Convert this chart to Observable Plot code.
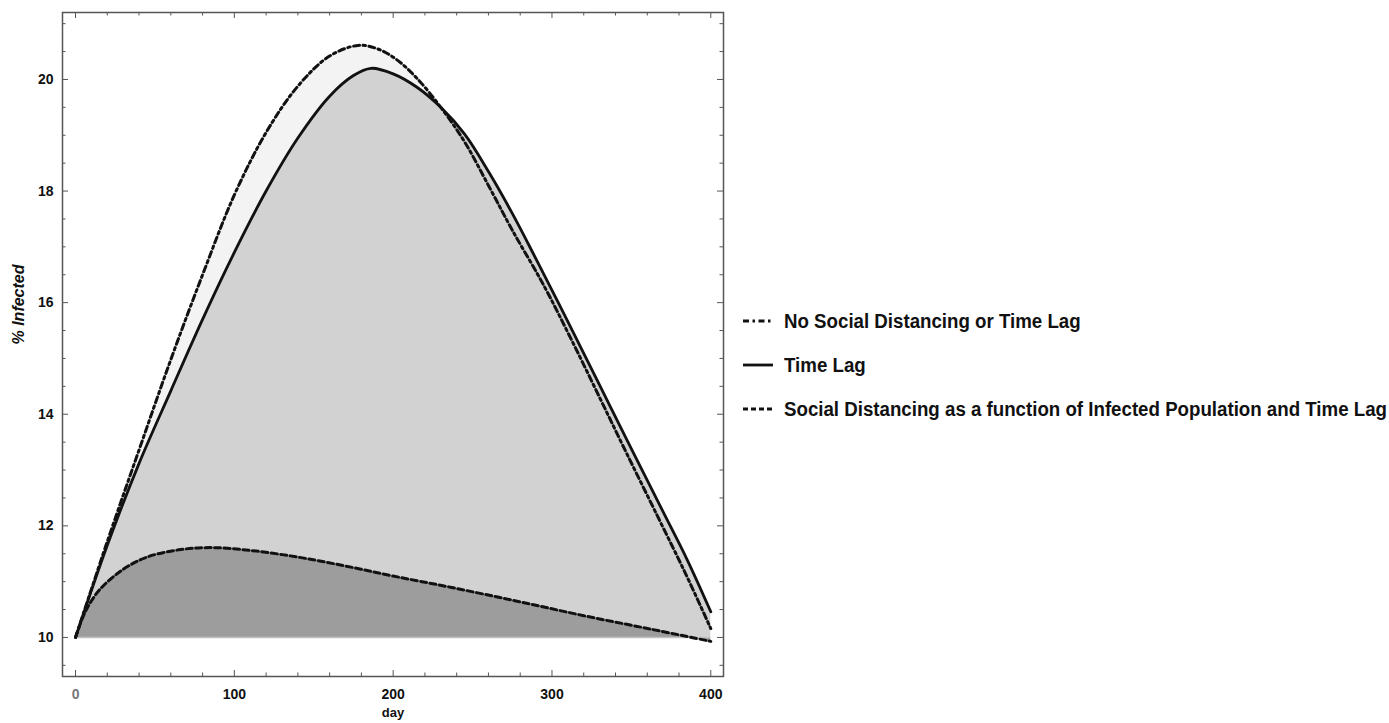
<!DOCTYPE html>
<html><head><meta charset="utf-8">
<script src="https://cdn.jsdelivr.net/npm/d3@7"></script>
<script src="https://cdn.jsdelivr.net/npm/@observablehq/plot@0.6"></script>
<style>
body{margin:0;background:#fff;}
#wrap{position:relative;width:1389px;height:723px;overflow:hidden;}
#chart{position:absolute;left:0;top:0;}
#legend{position:absolute;left:0;top:0;font-family:"Liberation Sans",Arial,sans-serif;font-weight:bold;font-size:20px;color:#111;}
.item{position:absolute;display:flex;align-items:center;white-space:nowrap;height:24px;}
.item svg{margin-right:11px;flex:none;}
.item span{display:inline-block;transform-origin:0 50%;}
</style></head>
<body><div id="wrap"><div id="chart"></div><div id="legend"></div></div>
<script>
// ---- data ----
const seriesNames = ["No Social Distancing or Time Lag", "Time Lag", "Social Distancing as a function of Infected Population and Time Lag"];
const baseline = 10;

const noSdDays   = [0, 20, 40, 60, 80, 100, 120, 140, 160, 178, 190, 202, 215, 230, 245, 260, 275, 295, 312, 330, 347, 366, 384, 400];
const noSdValues = [10, 11.72, 13.36, 14.98, 16.5, 17.93, 19.05, 19.88, 20.42, 20.61, 20.55, 20.36, 20.02, 19.5, 18.88, 18.1, 17.3, 16.3, 15.35, 14.3, 13.3, 12.2, 11.15, 10.16];

const lagDays   = [0, 20, 40, 60, 80, 100, 120, 140, 160, 175, 186, 200, 215, 230, 245, 260, 275, 290, 310, 330, 350, 370, 385, 400];
const lagValues = [10, 11.65, 13.12, 14.42, 15.7, 16.9, 18.0, 18.95, 19.7, 20.07, 20.2, 20.1, 19.86, 19.5, 19.02, 18.35, 17.6, 16.78, 15.66, 14.52, 13.38, 12.25, 11.4, 10.46];

const sdDays   = [0, 6, 15, 30, 45, 65, 85, 110, 140, 170, 200, 236, 278, 320, 362, 400];
const sdValues = [10, 10.45, 10.85, 11.22, 11.44, 11.57, 11.61, 11.56, 11.44, 11.28, 11.1, 10.9, 10.65, 10.39, 10.15, 9.93];

const xMajorTicks = [0, 100, 200, 300, 400];
const xMinorTicks = d3.range(0, 401, 20).filter(d => d % 100 !== 0);
const yMajorTicks = [10, 12, 14, 16, 18, 20];
const yMinorTicks = d3.range(9.5, 21.01, 0.5).filter(d => d % 2 !== 0);

const xDomain = [-8.2, 408];
const yDomain = [9.3, 21.2];

// ---- build tables ----
const noSd = noSdDays.map((d, i) => ({day: d, value: noSdValues[i]}));
const lag  = lagDays.map((d, i) => ({day: d, value: lagValues[i]}));
const sd   = sdDays.map((d, i) => ({day: d, value: sdValues[i]}));

const W = 740, H = 723, mL = 62, mR = 17, mT = 12, mB = 47;
const fH = H - mT - mB, fW = W - mL - mR;
const major = 6, minor = 3.5;
const tickColor = "#555";
const curve = "catmull-rom";

const plot = Plot.plot({
  width: W, height: H,
  marginLeft: mL, marginRight: mR, marginTop: mT, marginBottom: mB,
  x: {domain: xDomain},
  y: {domain: yDomain},
  style: {fontFamily: "'Liberation Sans', Arial, sans-serif", fontSize: "14px", fontWeight: "bold", color: "#111", background: "#fff"},
  marks: [
    Plot.areaY(noSd, {x: "day", y1: baseline, y2: "value", fill: "#f3f3f3", curve}),
    Plot.areaY(lag,  {x: "day", y1: baseline, y2: "value", fill: "#d2d2d2", curve}),
    Plot.areaY(sd,   {x: "day", y1: baseline, y2: "value", fill: "#9d9d9d", curve}),
    Plot.ruleY([baseline], {x1: xMajorTicks[0], x2: xMajorTicks[xMajorTicks.length - 1], stroke: "#c2c2c2", strokeWidth: 1.5}),
    Plot.line(noSd, {x: "day", y: "value", stroke: "#111", strokeWidth: 3, strokeDasharray: "6,3.5,2.5,3.5", curve}),
    Plot.line(lag,  {x: "day", y: "value", stroke: "#111", strokeWidth: 2.8, curve}),
    Plot.line(sd,   {x: "day", y: "value", stroke: "#111", strokeWidth: 3, strokeDasharray: "6,3.5", curve}),
    // inward frame ticks (bottom, top, left, right)
    Plot.ruleX(xMajorTicks, {x: d => d, insetTop: fH - major, stroke: tickColor}),
    Plot.ruleX(xMinorTicks, {x: d => d, insetTop: fH - minor, stroke: tickColor}),
    Plot.ruleX(xMajorTicks, {x: d => d, insetBottom: fH - major, stroke: tickColor}),
    Plot.ruleX(xMinorTicks, {x: d => d, insetBottom: fH - minor, stroke: tickColor}),
    Plot.ruleY(yMajorTicks, {y: d => d, insetRight: fW - major, stroke: tickColor}),
    Plot.ruleY(yMinorTicks, {y: d => d, insetRight: fW - minor, stroke: tickColor}),
    Plot.ruleY(yMajorTicks, {y: d => d, insetLeft: fW - major, stroke: tickColor}),
    Plot.ruleY(yMinorTicks, {y: d => d, insetLeft: fW - minor, stroke: tickColor}),
    Plot.frame({stroke: "#555", strokeWidth: 1.5}),
    Plot.axisX(xMajorTicks, {tickSize: 0, tickPadding: 13, label: null, tickFormat: d => String(d), fill: d => d === 0 ? "#777" : "#111"}),
    Plot.axisY(yMajorTicks, {tickSize: 0, tickPadding: 9, label: null, tickFormat: d => String(d)}),
    Plot.text(["day"], {text: d => d, frameAnchor: "bottom", dy: 40, fontSize: 13}),
    Plot.text(["% Infected"], {text: d => d, frameAnchor: "left", dx: -44, rotate: -90, fontSize: 16, fontStyle: "italic"})
  ]
});
document.getElementById("chart").appendChild(plot);

// ---- legend ----
const legendDash = ["6,3.5,2.5,3.5", null, "5,3"];
const legendTop = [309, 353, 397];
const legend = document.getElementById("legend");
const spans = [];
seriesNames.forEach((name, i) => {
  const item = document.createElement("div");
  item.className = "item";
  item.style.left = "743px";
  item.style.top = legendTop[i] + "px";
  const ns = "http://www.w3.org/2000/svg";
  const s = document.createElementNS(ns, "svg");
  s.setAttribute("width", 30); s.setAttribute("height", 10);
  const l = document.createElementNS(ns, "line");
  l.setAttribute("x1", 0); l.setAttribute("x2", 30); l.setAttribute("y1", 5); l.setAttribute("y2", 5);
  l.setAttribute("stroke", "#111"); l.setAttribute("stroke-width", 2.8);
  if (legendDash[i]) l.setAttribute("stroke-dasharray", legendDash[i]);
  s.appendChild(l);
  item.appendChild(s);
  const t = document.createElement("span");
  t.textContent = name;
  item.appendChild(t);
  legend.appendChild(item);
  spans.push(t);
});
// condense the legend text like a narrow font: longest entry spans ~603px
const longest = spans[2].getBoundingClientRect().width;
const k = 603 / longest;
spans.forEach(t => { t.style.transform = `scaleX(${k})`; });
</script>
</body></html>
